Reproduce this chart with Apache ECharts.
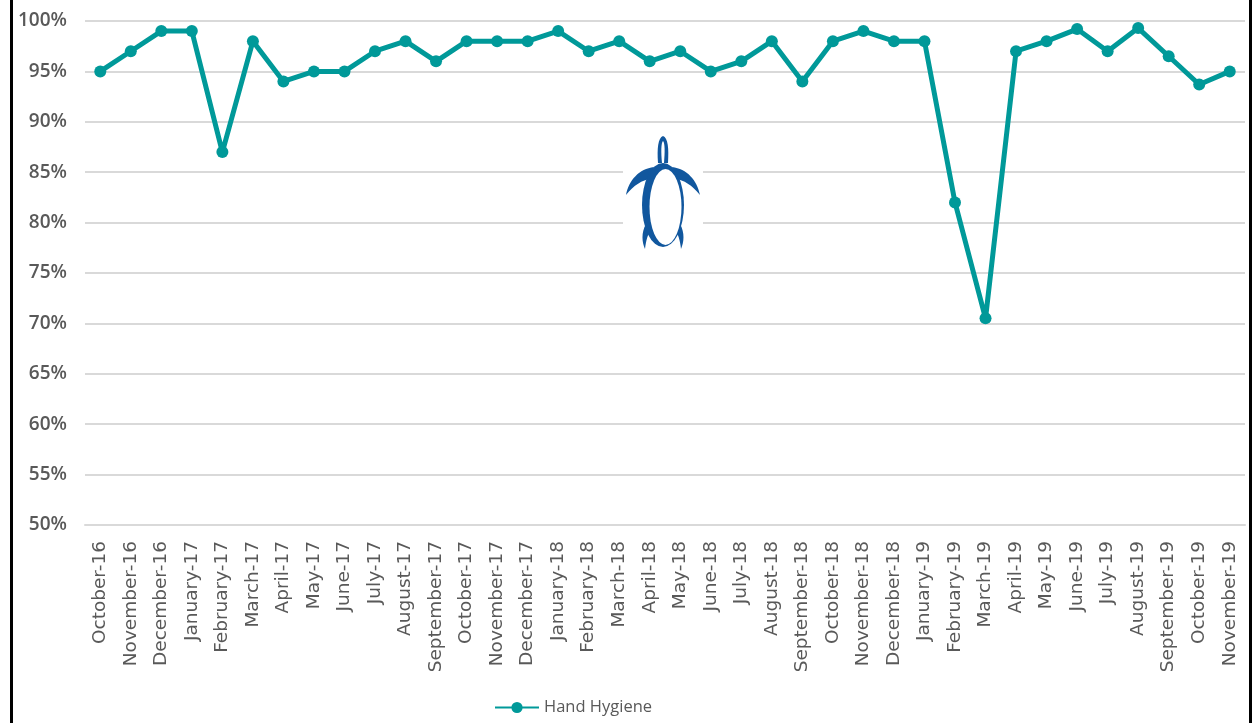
<!DOCTYPE html>
<html>
<head>
<meta charset="utf-8">
<script src="https://cdn.jsdelivr.net/npm/echarts@6/dist/echarts.min.js"></script>
<style>
html,body{margin:0;padding:0;background:#fff;}
#chart{width:1256px;height:723px;}
</style>
</head>
<body>
<div id="chart"></div>
<script>
const months = ["October-16","November-16","December-16","January-17","February-17","March-17","April-17","May-17","June-17","July-17","August-17","September-17","October-17","November-17","December-17","January-18","February-18","March-18","April-18","May-18","June-18","July-18","August-18","September-18","October-18","November-18","December-18","January-19","February-19","March-19","April-19","May-19","June-19","July-19","August-19","September-19","October-19","November-19"];
const handHygiene = [95,97,99,99,87,98,94,95,95,97,98,96,98,98,98,99,97,98,96,97,95,96,98,94,98,99,98,98,82,70.5,97,98,99.2,97,99.3,96.5,93.7,95];
const seriesName = "Hand Hygiene";

const turtleSvg = '<svg xmlns="http://www.w3.org/2000/svg" width="80" height="116" viewBox="0 0 80 116">' +
 '<rect width="80" height="116" fill="#fff"/>' +
 '<g fill="#11579e">' +
 '<path d="M40,2 C35,4 34,14 35,29 L39,29 C38,18 38,9 40,7 C42,9 42,18 41,29 L45,29 C46,14 45,4 40,2 Z"/>' +
 '<path d="M31,33 C16,35 6,46 3,61 C11,51 19,46 28,45 Z"/>' +
 '<path d="M49,33 C64,35 74,46 77,61 C69,51 61,46 52,45 Z"/>' +
 '<path d="M23,90 C18,99 19,108 22,115 C23,106 25,100 28,95 Z"/>' +
 '<path d="M57,90 C62,99 61,108 58,115 C57,106 55,100 52,95 Z"/>' +
 '<ellipse cx="40" cy="71" rx="21" ry="42"/>' +
 '</g>' +
 '<ellipse cx="42.5" cy="73" rx="16" ry="38" fill="#fff"/>' +
 '</svg>';
const turtleUri = 'data:image/svg+xml;charset=utf-8,' + encodeURIComponent(turtleSvg);

const chart = echarts.init(document.getElementById('chart'), null, {renderer:'canvas'});
chart.setOption({
  backgroundColor: '#ffffff',
  animation: false,
  grid: {left: 85, right: 11, top: 21, bottom: 198, containLabel: false},
  xAxis: {
    type: 'category',
    data: months,
    boundaryGap: true,
    axisLine: {show: true, lineStyle: {color: '#d9d9d9', width: 2}},
    axisTick: {show: false},
    axisLabel: {
      rotate: 90, interval: 0, margin: 16,
      color: '#595959', fontSize: 18.5, fontFamily: 'DejaVu Sans'
    }
  },
  yAxis: {
    type: 'value',
    min: 50, max: 100, interval: 5,
    axisLine: {show: false},
    axisTick: {show: false},
    splitLine: {lineStyle: {color: '#d9d9d9', width: 2}},
    axisLabel: {
      formatter: '{value}%', margin: 18,
      color: '#595959', fontSize: 19, fontWeight: 600, fontFamily: 'Open Sans'
    }
  },
  legend: {
    left: 489, top: 694,
    itemWidth: 44, itemHeight: 14, itemGap: 4,
    textStyle: {color: '#595959', fontSize: 16.5, fontFamily: 'Open Sans'},
    data: [seriesName]
  },
  series: [{
    name: seriesName,
    type: 'line',
    data: handHygiene,
    symbol: 'circle',
    symbolSize: 12,
    lineStyle: {color: '#009999', width: 5},
    itemStyle: {color: '#009999'},
    z: 3
  }],
  graphic: [
    {type: 'image', left: 623, top: 134, z: 10, style: {image: turtleUri, width: 80, height: 116}},
    {type: 'rect', left: 10, top: 0, z: 20, shape: {width: 3, height: 723}, style: {fill: '#000'}},
    {type: 'rect', left: 1249, top: 0, z: 20, shape: {width: 3, height: 723}, style: {fill: '#000'}}
  ]
});
</script>
</body>
</html>
